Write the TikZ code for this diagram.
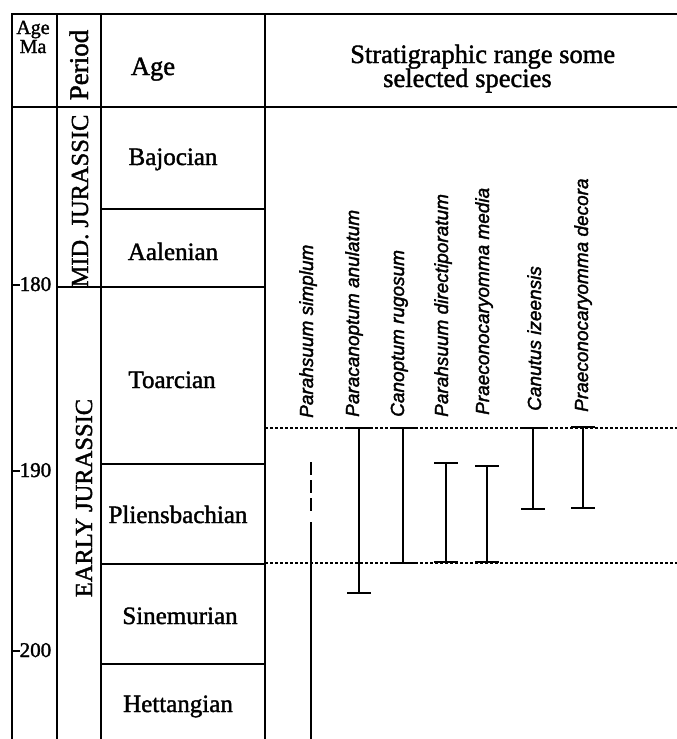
\documentclass[tikz,border=0pt]{standalone}
\usepackage{fontspec}
\setmainfont{Liberation Serif}[FakeBold=1.5]
\newfontfamily\spfont{Liberation Sans}[FakeBold=1.8]
\begin{document}
\begin{tikzpicture}[x=1pt,y=-1pt,
  frame/.style={line width=2pt},
  thickrule/.style={line width=2.8pt},
  dotrule/.style={line width=1.2pt, dash pattern=on 3pt off 2pt},
  rangebar/.style={line width=2pt},
  rangecap/.style={line width=2.6pt},
  agelbl/.style={font=\fontsize{25}{25}\selectfont, inner sep=0pt, anchor=base},
  hdrlbl/.style={font=\fontsize{26.5}{26.5}\selectfont, inner sep=0pt, anchor=base west},
  perlbl/.style={font=\fontsize{24.5}{24.5}\selectfont, inner sep=0pt, anchor=base, rotate=90},
  ticklbl/.style={font=\fontsize{21}{21}\selectfont, inner sep=0pt, anchor=base west},
  splbl/.style={font=\spfont\itshape\fontsize{19}{19}\selectfont, inner sep=0pt, anchor=base west, rotate=90}
]
\useasboundingbox (0,0) rectangle (677,739);

% ---- frame ----
\draw[thickrule] (11,14) -- (677,14);
\draw[thickrule] (11,107) -- (677,107);
\draw[frame] (12,14) -- (12,739);
\draw[frame] (57,14) -- (57,739);
\draw[frame] (101,14) -- (101,739);
\draw[frame] (265,14) -- (265,739);
\draw[frame] (101,209) -- (265,209);
\draw[frame] (57,287) -- (265,287);
\draw[frame] (101,464) -- (265,464);
\draw[frame] (101,564) -- (265,564);
\draw[frame] (101,664) -- (265,664);
\draw[dotrule] (265,428) -- (677,428);
\draw[dotrule] (265,563) -- (677,563);

% ---- header ----
\node[font=\fontsize{20}{19}\selectfont, inner sep=0pt, align=center, anchor=base] (hma) at (33,53) {Age\\Ma};
\node[font=\fontsize{27}{27}\selectfont, inner sep=0pt, anchor=base, rotate=90] (hper) at (88,65) {Period};
\node[hdrlbl, anchor=base] (hage) at (153,75) {Age};
\node[hdrlbl] (hr1) at (350,63) {Stratigraphic range some};
\node[hdrlbl] (hr2) at (383,87) {selected species};

% ---- periods ----
\node[perlbl] (mid) at (88,201) {MID. JURASSIC};
\node[perlbl] (early) at (92,498) {EARLY JURASSIC};

% ---- ages ----
\node[agelbl] (baj) at (173,165) {Bajocian};
\node[agelbl] (aal) at (173,260) {Aalenian};
\node[agelbl] (toa) at (172,388) {Toarcian};
\node[agelbl] (pli) at (178,523) {Pliensbachian};
\node[agelbl] (sin) at (180,624) {Sinemurian};
\node[agelbl] (het) at (178,712) {Hettangian};

% ---- Ma ticks ----
\draw[frame] (12,285) -- (20,285);
\node[ticklbl] (t180) at (19.5,291) {180};
\draw[frame] (12,471) -- (20,471);
\node[ticklbl] (t190) at (19.5,477) {190};
\draw[frame] (12,651) -- (20,651);
\node[ticklbl] (t200) at (19.5,657) {200};

% ---- species labels ----
\node[splbl] (sp1) at (313,418) {Parahsuum simplum};
\node[splbl] (sp2) at (359,417) {Paracanoptum anulatum};
\node[splbl] (sp3) at (404,417) {Canoptum rugosum};
\node[splbl] (sp4) at (448,417) {Parahsuum directiporatum};
\node[splbl] (sp5) at (489,415) {Praeconocaryomma media};
\node[splbl] (sp6) at (541,411) {Canutus izeensis};
\node[splbl] (sp7) at (588,412) {Praeconocaryomma decora};

% ---- ranges ----
\coordinate (r1a) at (311,462); \coordinate (r1b) at (311,513);
\coordinate (r1c) at (311,522); \coordinate (r1d) at (311,739);
\draw[rangebar, dash pattern=on 13pt off 5pt] (r1a) -- (r1b);
\draw[rangebar] (r1c) -- (r1d);

\newcommand{\rangeline}[4]{%
  \coordinate (#1t) at (#2,#3); \coordinate (#1b) at (#2,#4);
  \draw[rangebar] (#1t) -- (#1b);
  \draw[rangecap] ([xshift=-12pt]#1t) -- ([xshift=12pt]#1t);
  \draw[rangecap] ([xshift=-12pt]#1b) -- ([xshift=12pt]#1b);
}
\rangeline{r2}{359}{428}{593}
\rangeline{r3}{403}{428}{563}
\rangeline{r4}{446}{463}{562}
\rangeline{r5}{487}{466}{562}
\rangeline{r6}{533}{428}{509}
\rangeline{r7}{583}{427}{508}
\end{tikzpicture}
\end{document}
